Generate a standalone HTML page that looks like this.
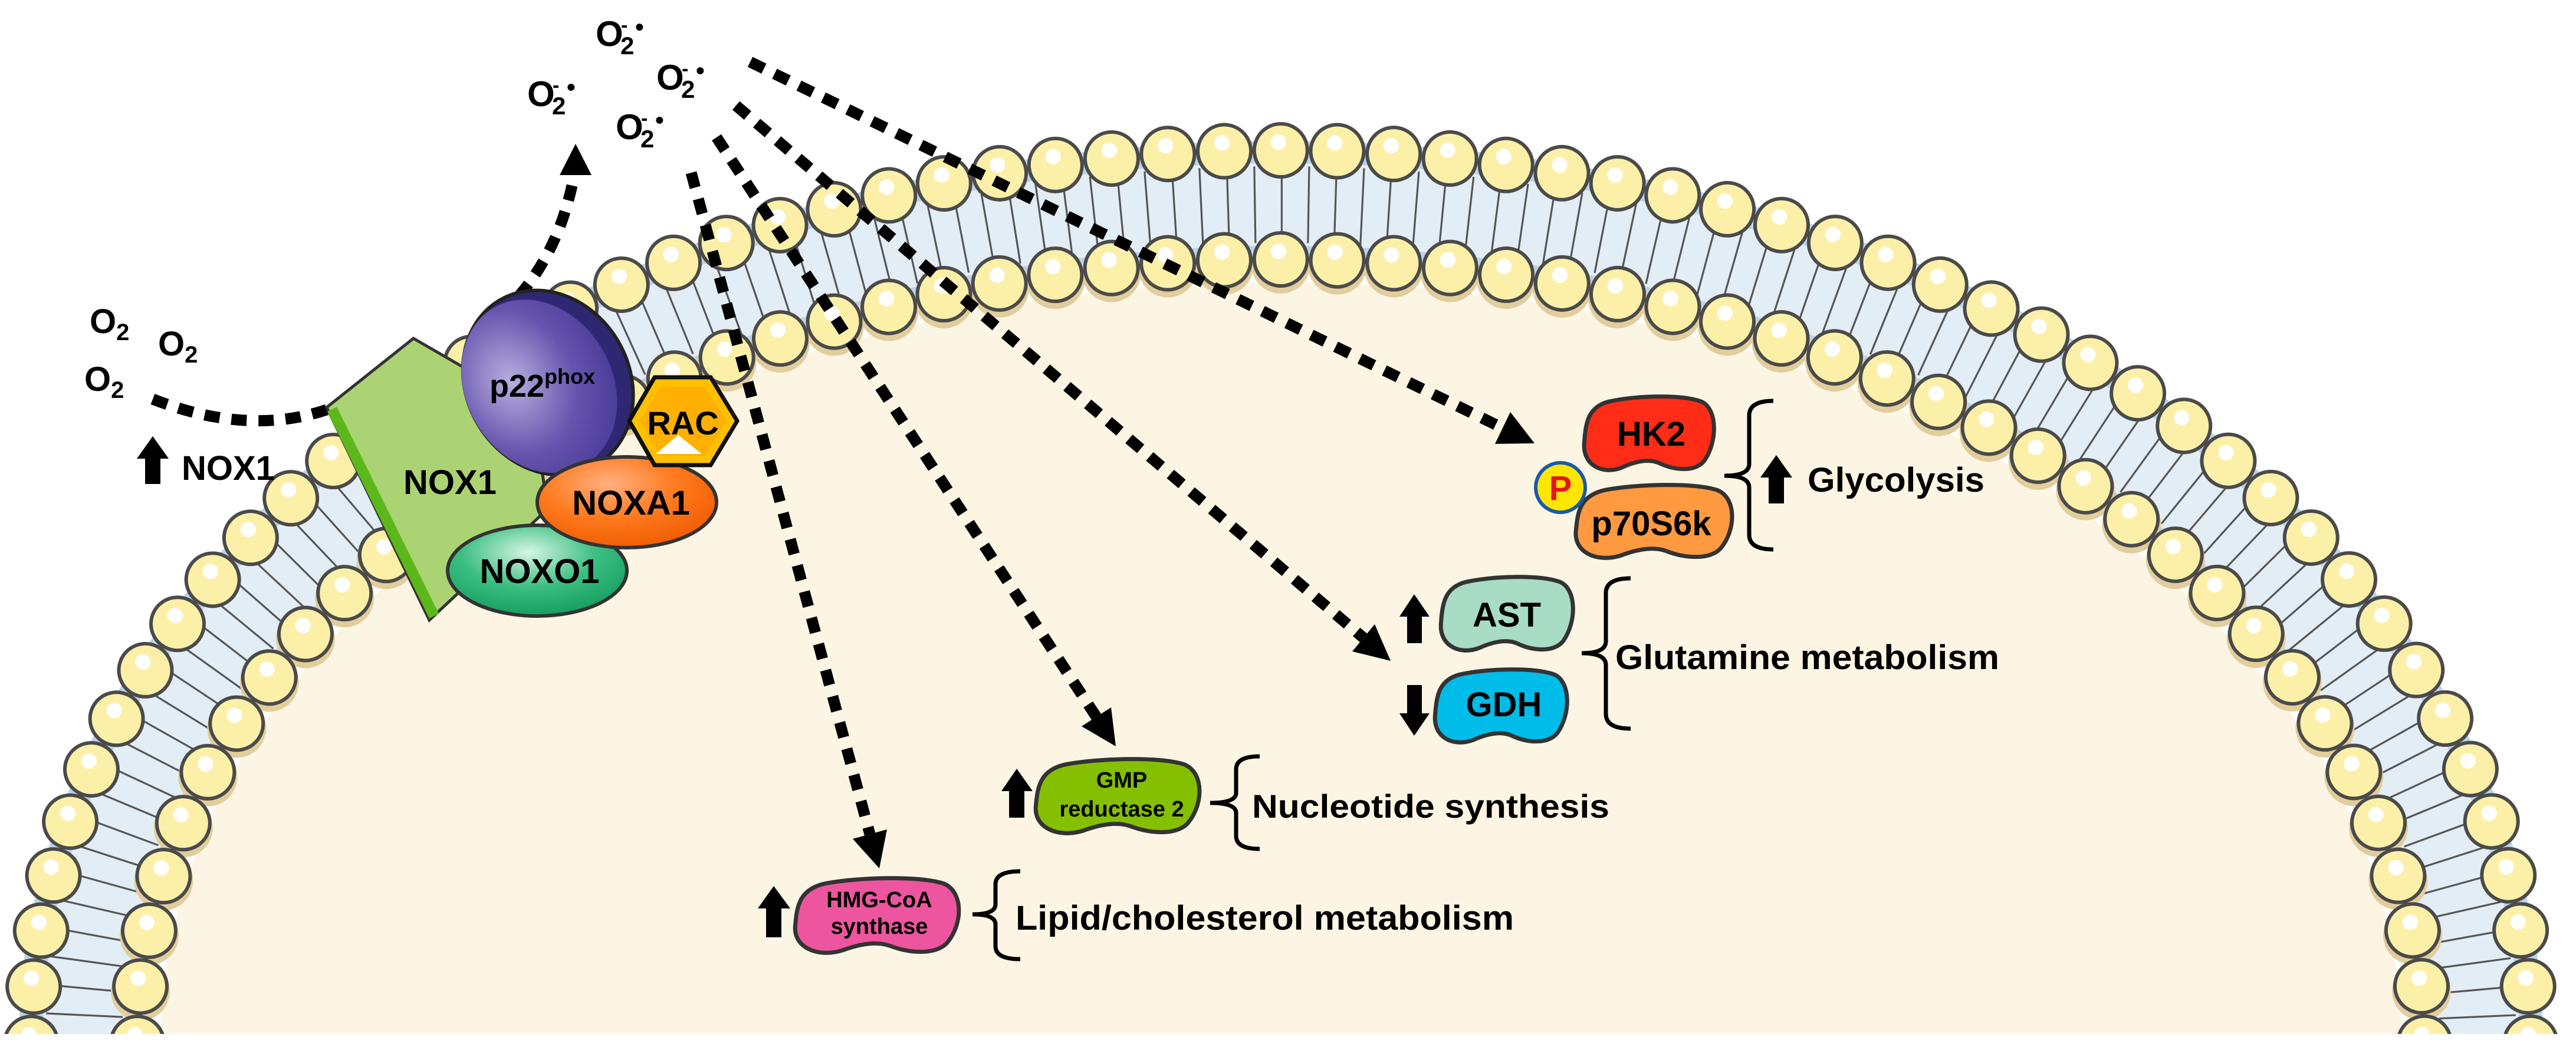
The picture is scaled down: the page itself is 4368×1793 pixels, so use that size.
<!DOCTYPE html>
<html><head><meta charset="utf-8"><style>
html,body{margin:0;padding:0;background:#fff;overflow:hidden;width:4368px;height:1793px;}
svg{display:block;}
text{font-family:"Liberation Sans",Arial,sans-serif;font-weight:bold;fill:#000;}
</style></head><body>
<svg width="4368" height="1793" viewBox="0 0 4368 1793" xmlns="http://www.w3.org/2000/svg">
<defs>
<radialGradient id="gp" cx="0.35" cy="0.4" r="0.7"><stop offset="0" stop-color="#b9aee0"/><stop offset="0.6" stop-color="#6653ad"/><stop offset="1" stop-color="#4a3c98"/></radialGradient>
<radialGradient id="go" cx="0.4" cy="0.3" r="0.75"><stop offset="0" stop-color="#ffb080"/><stop offset="0.5" stop-color="#ff7a1f"/><stop offset="1" stop-color="#f05a00"/></radialGradient>
<radialGradient id="gg" cx="0.45" cy="0.3" r="0.75"><stop offset="0" stop-color="#d6f5e4"/><stop offset="0.5" stop-color="#3cbf83"/><stop offset="1" stop-color="#10995c"/></radialGradient>
<path id="blob" stroke="#333" stroke-width="7" vector-effect="non-scaling-stroke" d="M20 8 C40 0 75 -2 90 8 C102 18 102 60 92 85 C85 100 70 98 58 88 C50 82 40 86 30 94 C15 104 0 90 2 60 C3 35 5 15 20 8 Z"/>
</defs>
<rect width="4368" height="1793" fill="#fff"/>
<!-- membrane -->
<ellipse cx="2172" cy="1769" rx="2035" ry="1425" fill="none" stroke="#bcd3e6" stroke-width="210"/>
<ellipse cx="2172" cy="1769" rx="2030" ry="1422" fill="none" stroke="#e3edf5" stroke-width="140"/>
<ellipse cx="2172" cy="1769" rx="1900" ry="1290" fill="#fdf5e3"/>
<ellipse cx="2172" cy="1769" rx="2030" ry="1422" fill="none" stroke="#555" stroke-width="130" pathLength="240" stroke-dasharray="0.07 0.93"/>
<ellipse cx="2172" cy="1777" rx="1939" ry="1329" fill="none" stroke="#e2cd9d" stroke-width="100" pathLength="108" stroke-dasharray="0 1" stroke-linecap="round"/>
<ellipse cx="2172" cy="1769" rx="1939" ry="1329" fill="none" stroke="#4a4a4a" stroke-width="96" pathLength="108" stroke-dasharray="0 1" stroke-linecap="round"/>
<ellipse cx="2172" cy="1769" rx="1939" ry="1329" fill="none" stroke="#fcf0a8" stroke-width="84" pathLength="108" stroke-dasharray="0 1" stroke-linecap="round"/>
<ellipse cx="2168" cy="1755" rx="1939" ry="1329" fill="none" stroke="#fff" stroke-width="26" pathLength="108" stroke-dasharray="0 1" stroke-linecap="round"/>
<ellipse cx="2172" cy="1769" rx="2119" ry="1514" fill="none" stroke="#4a4a4a" stroke-width="96" pathLength="120" stroke-dasharray="0 1" stroke-linecap="round"/>
<ellipse cx="2172" cy="1769" rx="2119" ry="1514" fill="none" stroke="#fcf0a8" stroke-width="84" pathLength="120" stroke-dasharray="0 1" stroke-linecap="round"/>
<ellipse cx="2168" cy="1755" rx="2119" ry="1514" fill="none" stroke="#fff" stroke-width="26" pathLength="120" stroke-dasharray="0 1" stroke-linecap="round"/>
<rect x="0" y="1754" width="4368" height="39" fill="#fff"/>

<!-- dotted connectors -->
<g fill="none" stroke="#000" stroke-width="19" stroke-dasharray="26 20">
<path d="M259 677 Q420 740 554 695"/>
<path d="M880 502 Q950 420 973 300"/>
<path d="M1272 105 L2548 726"/>
<path d="M1248 179 L2312 1082"/>
<path d="M1215 233 L1859 1216"/>
<path d="M1172 293 L1475 1415"/>
</g>
<g fill="#000">
<polygon points="976,244 1003,297 949,297"/>
<polygon points="2602,752 2535,753 2561,699"/>
<polygon points="2358,1121 2293,1105 2331,1059"/>
<polygon points="1892,1266 1834,1232 1884,1200"/>
<polygon points="1491,1473 1446,1423 1504,1407"/>
</g>

<!-- NOX complex -->
<polygon points="554,691 701,574 902,690 929,863 728,1052" fill="#acd373" stroke="#333" stroke-width="5"/>
<line x1="563" y1="694" x2="736" y2="1045" stroke="#5cb81a" stroke-width="18"/>
<ellipse cx="930" cy="652" rx="138" ry="162" transform="rotate(-30 924 652)" fill="#2e2873" stroke="#222" stroke-width="6"/>
<ellipse cx="914" cy="650" rx="124" ry="154" transform="rotate(-30 924 652)" fill="url(#gp)"/>
<ellipse cx="911" cy="968" rx="152" ry="77" fill="url(#gg)" stroke="#333" stroke-width="6"/>
<ellipse cx="1063" cy="852" rx="152" ry="77" fill="url(#go)" stroke="#333" stroke-width="6"/>
<polygon points="1067,714 1110,640 1205,640 1250,714 1205,789 1110,789" fill="#ffc000" stroke="#111" stroke-width="7"/>
<polygon points="1085,714 1120,656 1195,656 1232,714 1195,773 1120,773" fill="#ffb000"/>
<polygon points="1112,770 1150,738 1190,770" fill="#fff"/>
<text x="830" y="673" font-size="54">p22<tspan font-size="36" dy="-22">phox</tspan></text>
<text x="1158" y="737" font-size="56" text-anchor="middle">RAC</text>
<text x="763" y="838" font-size="58" text-anchor="middle">NOX1</text>
<text x="1070" y="873" font-size="58" text-anchor="middle">NOXA1</text>
<text x="915" y="989" font-size="58" text-anchor="middle">NOXO1</text>

<!-- O2 labels -->
<text x="152" y="565" font-size="58">O<tspan font-size="40" dy="12">2</tspan></text>
<text x="268" y="603" font-size="58">O<tspan font-size="40" dy="12">2</tspan></text>
<text x="143" y="663" font-size="58">O<tspan font-size="40" dy="12">2</tspan></text>
<g font-size="60">
<text x="1010" y="78">O</text><text x="1053" y="54" font-size="34">-</text><text x="1052" y="92" font-size="42">2</text><text x="1077" y="60" font-size="42">•</text>
<text x="1113" y="152">O</text><text x="1156" y="128" font-size="34">-</text><text x="1155" y="166" font-size="42">2</text><text x="1180" y="134" font-size="42">•</text>
<text x="894" y="180">O</text><text x="937" y="156" font-size="34">-</text><text x="936" y="194" font-size="42">2</text><text x="961" y="162" font-size="42">•</text>
<text x="1044" y="236">O</text><text x="1087" y="212" font-size="34">-</text><text x="1086" y="250" font-size="42">2</text><text x="1111" y="218" font-size="42">•</text>
</g>

<!-- block arrows -->
<g fill="#000">
<polygon points="259,740 286,778 272,778 272,821 246,821 246,778 232,778"/>
<text x="308" y="814" font-size="58">NOX1</text>
<polygon points="3012,772 3039,810 3025,810 3025,854 2999,854 2999,810 2985,810"/>
<polygon points="2398,1008 2424,1046 2411,1046 2411,1091 2386,1091 2386,1046 2373,1046"/>
<polygon points="2398,1248 2424,1210 2411,1210 2411,1162 2386,1162 2386,1210 2373,1210"/>
<polygon points="1724,1304 1751,1342 1737,1342 1737,1387 1711,1387 1711,1342 1698,1342"/>
<polygon points="1312,1503 1340,1541 1325,1541 1325,1590 1299,1590 1299,1541 1285,1541"/>
</g>

<!-- enzymes -->
<use href="#blob" transform="translate(2682 671) scale(2.26 1.30)" fill="#ff2d17"/>
<use href="#blob" transform="translate(2667 821) scale(2.72 1.29)" fill="#ff9a40"/>
<use href="#blob" transform="translate(2439 977) scale(2.30 1.30)" fill="#a8dcc4"/>
<use href="#blob" transform="translate(2429 1134) scale(2.30 1.29)" fill="#00bce8"/>
<use href="#blob" transform="translate(1751 1286) scale(2.85 1.31)" fill="#84c000"/>
<use href="#blob" transform="translate(1343 1488) scale(2.85 1.32)" fill="#ee559f"/>
<circle cx="2646" cy="827" r="42" fill="#ffe600" stroke="#1a5aa8" stroke-width="6"/>
<text x="2646" y="848" font-size="58" text-anchor="middle" style="fill:#e8141c">P</text>
<text x="2800" y="756" font-size="58" text-anchor="middle">HK2</text>
<text x="2800" y="908" font-size="58" text-anchor="middle">p70S6k</text>
<text x="2555" y="1063" font-size="58" text-anchor="middle">AST</text>
<text x="2550" y="1215" font-size="58" text-anchor="middle">GDH</text>
<text x="1902" y="1336" font-size="38" text-anchor="middle">GMP</text>
<text x="1902" y="1385" font-size="38" text-anchor="middle">reductase 2</text>
<text x="1491" y="1539" font-size="38" text-anchor="middle">HMG-CoA</text>
<text x="1491" y="1584" font-size="38" text-anchor="middle">synthase</text>

<!-- brackets -->
<g fill="none" stroke="#000" stroke-width="7">
<path d="M3007 680 Q2966 680 2966 705 L2966 787 Q2966 807 2924 807 Q2966 807 2966 827 L2966 907 Q2966 932 3007 932"/>
<path d="M2765 981 Q2723 981 2723 1006 L2723 1088 Q2723 1108 2682 1108 Q2723 1108 2723 1128 L2723 1211 Q2723 1236 2765 1236"/>
<path d="M2136 1283 Q2096 1283 2096 1305 L2096 1345 Q2096 1362 2052 1362 Q2096 1362 2096 1379 L2096 1418 Q2096 1440 2136 1440"/>
<path d="M1730 1478 Q1688 1478 1688 1500 L1688 1534 Q1688 1551 1649 1551 Q1688 1551 1688 1568 L1688 1605 Q1688 1627 1730 1627"/>
</g>
<text x="3065" y="834" font-size="58" textLength="300" lengthAdjust="spacingAndGlyphs">Glycolysis</text>
<text x="2739" y="1135" font-size="58" textLength="651" lengthAdjust="spacingAndGlyphs">Glutamine metabolism</text>
<text x="2123" y="1387" font-size="56" textLength="606" lengthAdjust="spacingAndGlyphs">Nucleotide synthesis</text>
<text x="1722" y="1577" font-size="58" textLength="845" lengthAdjust="spacingAndGlyphs">Lipid/cholesterol metabolism</text>
</svg>
</body></html>
